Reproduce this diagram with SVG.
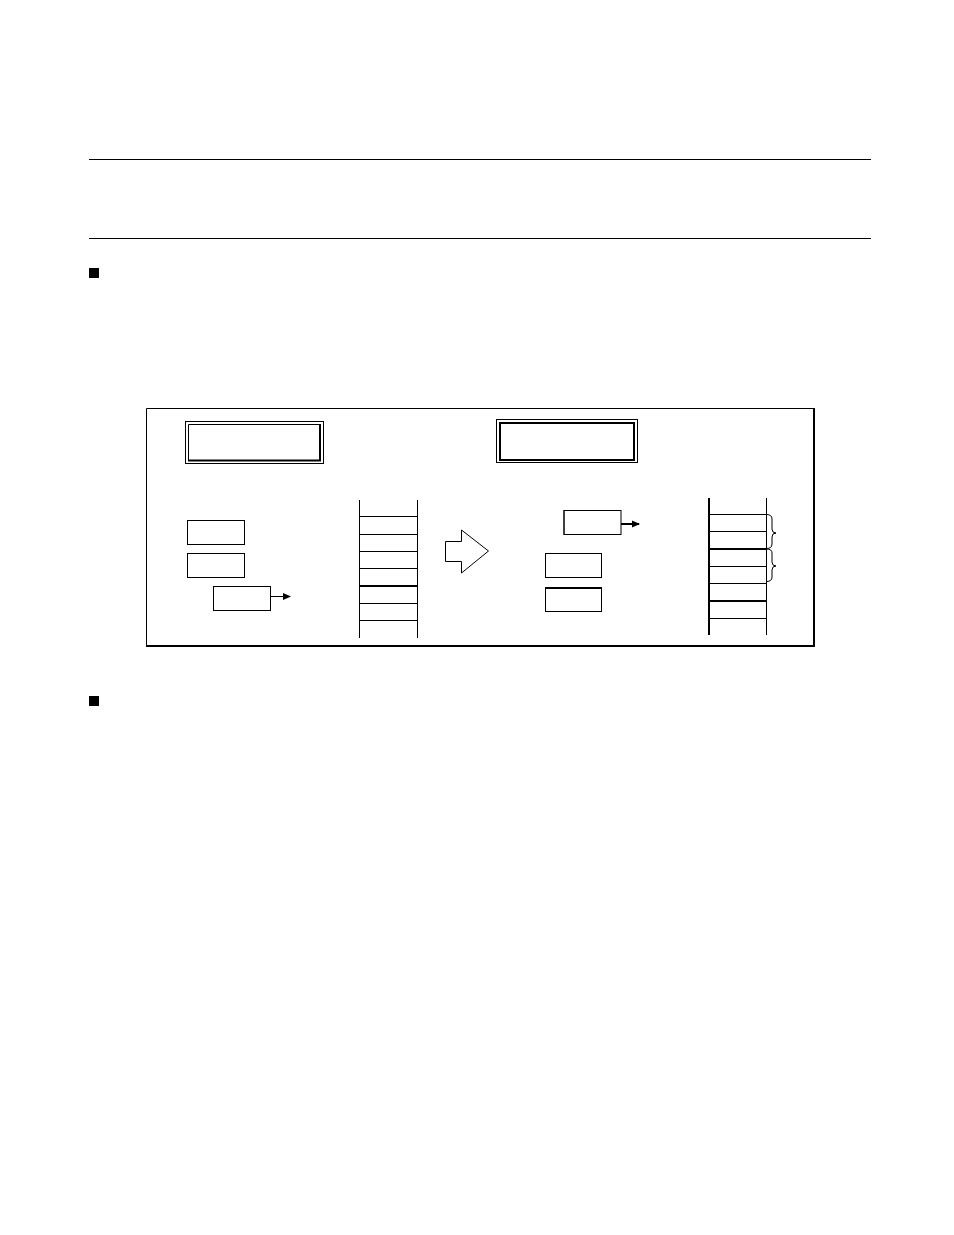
<svg xmlns="http://www.w3.org/2000/svg" width="954" height="1235" viewBox="0 0 954 1235">
<style>
.l{stroke:#000;stroke-width:1;fill:none}
.t{stroke:#000;stroke-width:2;fill:none}
.b{fill:#fff;stroke:#000;stroke-width:1}
</style>
<defs>
<marker id="ah" markerWidth="8" markerHeight="8" refX="7" refY="4" orient="auto" markerUnits="userSpaceOnUse">
<path d="M0,0.5 L8,4 L0,7.5 Z" fill="#000"/>
</marker>
</defs>
<rect width="954" height="1235" fill="#fff"/>
<g id="rules">
<line class="l" x1="89" y1="159.5" x2="871" y2="159.5"/>
<line class="l" x1="89" y1="238.5" x2="871" y2="238.5"/>
<rect x="89" y="268" width="10" height="10" fill="#000"/>
<rect x="89" y="696" width="10" height="10" fill="#000"/>
</g>
<g id="frame">
<path class="l" d="M146.5,646 V408.5 H814"/>
<path class="t" d="M146,646 H814 V408"/>
</g>
<g id="title-left">
<rect class="l" x="185.5" y="421.5" width="138" height="42"/>
<path class="l" d="M188.5,461 V424.5 H320"/>
<path class="t" d="M188,460.5 H320 V424"/>
</g>
<g id="title-right">
<rect class="l" x="496.5" y="419.5" width="141" height="43"/>
<rect class="t" x="500" y="423" width="134" height="37"/>
</g>
<g id="left-boxes">
<rect id="lb1" class="b" x="187.5" y="520.5" width="57" height="24"/>
<rect id="lb2" class="b" x="187.5" y="553.5" width="57" height="24"/>
<rect id="lb3" class="b" x="213.5" y="586.5" width="57" height="24"/>
</g>
<g id="left-stack">
<line class="l" x1="359.5" y1="500" x2="359.5" y2="638"/>
<line class="l" x1="417.5" y1="500" x2="417.5" y2="638"/>
<line class="l" x1="359.5" y1="516.5" x2="417.5" y2="516.5"/>
<line class="l" x1="359.5" y1="534.5" x2="417.5" y2="534.5"/>
<line class="l" x1="359.5" y1="551.5" x2="417.5" y2="551.5"/>
<line class="l" x1="359.5" y1="568.5" x2="417.5" y2="568.5"/>
<line class="t" x1="359.5" y1="586" x2="417.5" y2="586"/>
<line class="l" x1="359.5" y1="603.5" x2="417.5" y2="603.5"/>
<line class="l" x1="359.5" y1="620.5" x2="417.5" y2="620.5"/>
</g>
<g id="big-arrow">
<path class="b" d="M445.5,541.5 H461.5 V530 L488.5,551 L461.5,573 V561.5 H445.5 Z"/>
</g>
<g id="right-boxes">
<rect id="rb1" class="b" x="564" y="510.5" width="57" height="24"/>
<path class="l" d="M564,510.5 H621 M564,510 V535" stroke-width="2"/>
<rect id="rb2" class="b" x="545.5" y="553.5" width="56" height="24"/>
<rect id="rb3" class="b" x="545.5" y="587.5" width="56" height="24"/>
<line class="t" x1="545" y1="588" x2="602" y2="588"/>
</g>
<g id="right-stack">
<line class="t" x1="709" y1="498" x2="709" y2="635"/>
<line class="l" x1="766.5" y1="498" x2="766.5" y2="635"/>
<line class="l" x1="709" y1="514.5" x2="766.5" y2="514.5"/>
<line class="l" x1="709" y1="531.5" x2="766.5" y2="531.5"/>
<line class="t" x1="709" y1="549" x2="766.5" y2="549"/>
<line class="l" x1="709" y1="566.5" x2="766.5" y2="566.5"/>
<line class="l" x1="709" y1="583.5" x2="766.5" y2="583.5"/>
<line class="t" x1="709" y1="601" x2="766.5" y2="601"/>
<line class="l" x1="709" y1="618.5" x2="766.5" y2="618.5"/>
<path id="brace1" class="l" d="M766.5,514.5 Q772,514.5 772,519 V529 Q772,533 776,533 Q772,533 772,537 V544 Q772,548.5 766.5,548.5"/>
<path id="brace2" class="l" d="M766.5,549 Q772,549 772,553 V562 Q772,566 776,566 Q772,566 772,570 V577 Q772,581.5 766.5,581.5"/>
</g>
<g id="connectors">
<line class="l" x1="271" y1="596.5" x2="290" y2="596.5" marker-end="url(#ah)"/>
<line class="t" x1="621" y1="524" x2="639" y2="524" marker-end="url(#ah)"/>
</g>
</svg>
